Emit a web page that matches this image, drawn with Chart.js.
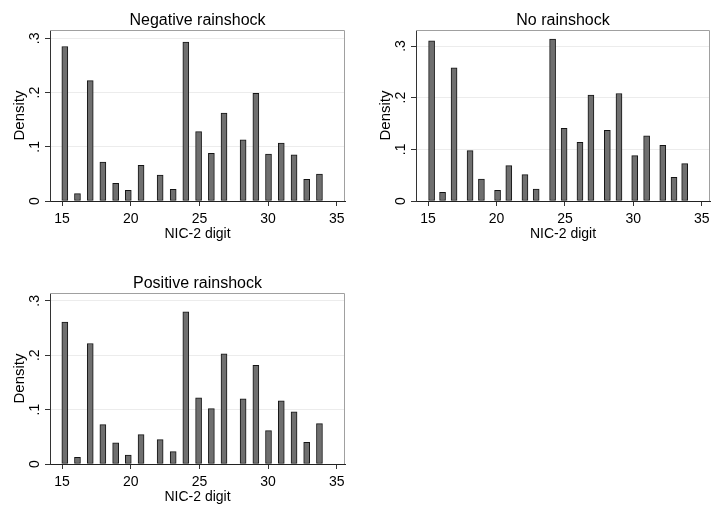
<!DOCTYPE html>
<html>
<head>
<meta charset="utf-8">
<script src="https://cdn.jsdelivr.net/npm/chart.js@4"></script>
<style>
  html, body { margin: 0; padding: 0; background: #fff; overflow: hidden; }
  body { width: 711px; height: 508px; position: relative; }
  canvas { position: absolute; }
</style>
</head>
<body>
<canvas id="negChart" width="355" height="250" style="left:0;top:0"></canvas>
<canvas id="noChart" width="345" height="250" style="left:366px;top:0"></canvas>
<canvas id="posChart" width="355" height="245" style="left:0;top:263px"></canvas>
<script>
// --- Data ---
const xTicks = [15, 20, 25, 30, 35];
const yTicks = [0, 0.1, 0.2, 0.3];
const yTickLabels = ['0', '.1', '.2', '.3'];
const xTitle = 'NIC-2 digit';
const yTitle = 'Density';

// bin positions (NIC-2 digit) as drawn in each panel
const binsNeg = [15.2, 16.12, 17.05, 17.97, 18.9, 19.82, 20.75, 22.14, 23.09, 24.01,
                 24.94, 25.87, 26.79, 28.18, 29.11, 30.03, 30.96, 31.89, 32.81, 33.74];
const binsNo = [15.26, 16.06, 16.9, 18.07, 18.9, 20.08, 20.9, 22.08, 22.9, 24.1,
                24.94, 26.1, 26.9, 28.1, 28.95, 30.1, 30.97, 32.15, 32.97, 33.75];
const binsPos = binsNeg;

const densNeg = [0.285, 0.0135, 0.222, 0.072, 0.0326, 0.0197, 0.0658, 0.048, 0.0215, 0.293,
                 0.128, 0.088, 0.162, 0.113, 0.1985, 0.0867, 0.107, 0.085, 0.040, 0.0498];
const densNo = [0.310, 0.0168, 0.258, 0.0974, 0.0426, 0.0206, 0.0684, 0.051, 0.023, 0.3135,
                0.1406, 0.1135, 0.205, 0.137, 0.208, 0.0877, 0.126, 0.108, 0.0458, 0.0723];
const densPos = [0.261, 0.0123, 0.2215, 0.0724, 0.0387, 0.0166, 0.054, 0.0448, 0.0227, 0.280,
                 0.1215, 0.1018, 0.2025, 0.120, 0.1816, 0.0613, 0.116, 0.0957, 0.040, 0.0742];

const xRange = [14.12, 35.6];

// --- Text + frame drawn on top ---
const FONT = '"Liberation Sans", Arial, sans-serif';
const stataText = {
    id: 'stataText',
    afterDraw(chart) {
        const { ctx, chartArea: a, scales: { x, y } } = chart;
        const title = chart.options.plugins.stataText.title;
        ctx.save();
        // light frame top / right
        ctx.strokeStyle = '#a0a0a0'; ctx.lineWidth = 1;
        ctx.beginPath();
        ctx.moveTo(a.left, a.top + 0.5);
        ctx.lineTo(a.right - 0.5, a.top + 0.5);
        ctx.lineTo(a.right - 0.5, a.bottom);
        ctx.stroke();

        ctx.fillStyle = '#000';
        ctx.textAlign = 'center'; ctx.textBaseline = 'alphabetic';
        ctx.font = '16px ' + FONT;
        ctx.fillText(title, (a.left + a.right) / 2, a.top - 5);

        ctx.font = '14px ' + FONT;
        xTicks.forEach(v => ctx.fillText(String(v), x.getPixelForValue(v), a.bottom + 22));
        ctx.fillText(xTitle, (a.left + a.right) / 2, a.bottom + 37);

        yTicks.forEach((v, i) => {
            ctx.save();
            ctx.translate(a.left - 11, y.getPixelForValue(v));
            ctx.rotate(-Math.PI / 2);
            ctx.fillText(yTickLabels[i], 0, 0);
            ctx.restore();
        });
        ctx.save();
        ctx.font = '15px ' + FONT;
        ctx.translate(a.left - 26, (a.top + a.bottom) / 2);
        ctx.rotate(-Math.PI / 2);
        ctx.fillText(yTitle, 0, 0);
        ctx.restore();
        ctx.restore();
    }
};

function makePanel(id, title, bins, dens, yMax, padRight, xH) {
    const pts = bins.map((b, i) => ({ x: b, y: dens[i] }));
    new Chart(document.getElementById(id), {
        type: 'bar',
        data: {
            datasets: [{
                data: pts,
                backgroundColor: '#6f6f6f',
                borderColor: '#141414',
                borderWidth: 1,
                borderSkipped: false,
                barThickness: 6
            }]
        },
        options: {
            responsive: false,
            devicePixelRatio: 1,
            animation: false,
            layout: { padding: { top: 30, right: padRight, left: 0, bottom: 0 } },
            plugins: { legend: { display: false }, tooltip: { enabled: false }, stataText: { title: title } },
            scales: {
                x: {
                    type: 'linear', min: xRange[0], max: xRange[1], offset: false,
                    afterBuildTicks: s => { s.ticks = xTicks.map(v => ({ value: v })); },
                    afterFit: s => { s.height = xH; },
                    ticks: { display: false },
                    grid: { offset: false, drawOnChartArea: false, tickLength: 5, tickColor: '#333', tickWidth: 1 },
                    border: { color: '#222', width: 1 }
                },
                y: {
                    min: 0, max: yMax,
                    afterBuildTicks: s => { s.ticks = yTicks.map(v => ({ value: v })); },
                    afterFit: s => { s.width = 50; },
                    ticks: { display: false },
                    grid: { color: '#ececec', tickLength: 5, tickColor: '#333', lineWidth: 1 },
                    border: { color: '#333', width: 1 }
                }
            }
        },
        plugins: [stataText]
    });
}

makePanel('negChart', 'Negative rainshock', binsNeg, densNeg, 0.3155, 10, 49);
makePanel('noChart', 'No rainshock', binsNo, densNo, 0.331, 1, 49);
makePanel('posChart', 'Positive rainshock', binsPos, densPos, 0.3144, 10, 44);
</script>
</body>
</html>
